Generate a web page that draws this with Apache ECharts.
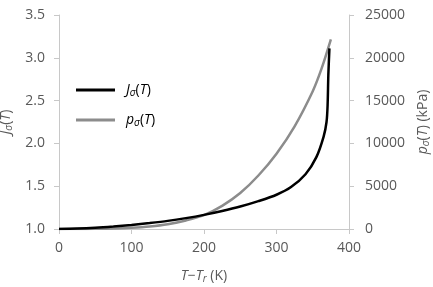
<!DOCTYPE html>
<html><head><meta charset="utf-8">
<script src="https://cdn.jsdelivr.net/npm/echarts@6/dist/echarts.min.js"></script>
<style>html,body{margin:0;padding:0;background:#fff}#c{width:433px;height:287px}</style>
</head><body><div id="c"></div>
<script>
var jT = [0, 25, 50, 75, 100, 125, 150, 175, 200, 225, 250, 275, 300, 320, 340, 355, 365, 369, 370.5, 371.5, 373];
var jVal = [1.0, 1.005, 1.015, 1.03, 1.048, 1.07, 1.095, 1.127, 1.165, 1.21, 1.262, 1.325, 1.40, 1.49, 1.64, 1.84, 2.08, 2.25, 2.45, 2.8, 3.11];
var pT = [0, 25, 50, 75, 100, 125, 150, 175, 200, 225, 250, 275, 300, 325, 350, 362, 375];
var pVal = [0, 5, 20, 60, 150, 300, 560, 1000, 1620, 2700, 4200, 6250, 8800, 12000, 16100, 18700, 22160];
var xTicks = [0, 100, 200, 300, 400];

var FONT = 'Open Sans';
var COL = '#595959';
var AX = '#c8c8c8';
var rich = {
  i: {fontFamily: FONT, fontSize: 14, fontStyle: 'italic', color: COL},
  s: {fontFamily: FONT, fontSize: 10, fontStyle: 'italic', color: COL, padding: [6, 0, 0, 0]},
  n: {fontFamily: FONT, fontSize: 14, color: COL}
};
var legendRich = {
  i: {fontFamily: FONT, fontSize: 14, fontStyle: 'italic', color: '#000'},
  s: {fontFamily: FONT, fontSize: 10, fontStyle: 'italic', color: '#000', padding: [6, 0, 0, 0]},
  n: {fontFamily: FONT, fontSize: 14, color: '#000'}
};
function pairs(xs, ys) { return xs.map(function (x, k) { return [x, ys[k]]; }); }

var chart = echarts.init(document.getElementById('c'), null, {renderer: 'canvas'});
chart.setOption({
  animation: false,
  grid: {left: 59, right: 84, top: 15, bottom: 58, containLabel: false, outerBoundsMode: 'none'},
  legend: {
    orient: 'vertical', left: 71, top: 78, itemWidth: 39, itemHeight: 3, itemGap: 15,
    icon: 'rect',
    data: ['J', 'p'],
    formatter: function (n) {
      return n === 'J' ? '{i|J}{s|σ}{n|(}{i|T}{n|)}' : '{i|p}{s|σ}{n|(}{i|T}{n|)}';
    },
    textStyle: {rich: legendRich, padding: [0, 0, 0, 6]}
  },
  xAxis: {
    type: 'value', min: 0, max: 400, interval: 100,
    name: '{i|T}{n|−}{i|T}{s|r}{n| (K)}', nameLocation: 'middle', nameGap: 39,
    nameTextStyle: {rich: rich},
    axisLine: {lineStyle: {color: AX, width: 1}},
    axisTick: {show: true, length: 5, lineStyle: {color: AX}},
    axisLabel: {fontFamily: FONT, fontSize: 14, color: COL, margin: 12,
      formatter: function (v) { return xTicks.indexOf(v) >= 0 ? String(v) : ''; }},
    splitLine: {show: false}
  },
  yAxis: [{
    type: 'value', min: 1.0, max: 3.5, interval: 0.5,
    name: '{i|J}{s|σ}{n|(}{i|T}{n|)}', nameLocation: 'middle', nameGap: 30, nameRotate: 90,
    nameTextStyle: {rich: rich},
    axisLine: {show: true, lineStyle: {color: AX}},
    axisTick: {show: true, length: 5, lineStyle: {color: AX}},
    axisLabel: {fontFamily: FONT, fontSize: 14, color: COL, margin: 14,
      formatter: function (v) { return v.toFixed(1); }},
    splitLine: {show: false}
  }, {
    type: 'value', min: 0, max: 25000, interval: 5000, position: 'right',
    name: '{i|p}{s|σ}{n|(}{i|T}{n|) (kPa)}', nameLocation: 'middle', nameGap: 63, nameRotate: 90,
    nameTextStyle: {rich: rich},
    axisLine: {show: true, lineStyle: {color: AX}},
    axisTick: {show: true, length: 5, lineStyle: {color: AX}},
    axisLabel: {fontFamily: FONT, fontSize: 14, color: COL, margin: 16,
      formatter: function (v) { return String(v); }},
    splitLine: {show: false}
  }],
  series: [{
    name: 'J', type: 'line', yAxisIndex: 0, showSymbol: false, symbol: 'none',
    data: pairs(jT, jVal), smooth: 0.3,
    lineStyle: {color: '#000', width: 2.5}, itemStyle: {color: '#000'}, z: 3
  }, {
    name: 'p', type: 'line', yAxisIndex: 1, showSymbol: false, symbol: 'none',
    data: pairs(pT, pVal), smooth: 0.3,
    lineStyle: {color: '#8c8c8c', width: 2.5}, itemStyle: {color: '#8c8c8c'}, z: 2
  }]
});
</script></body></html>
